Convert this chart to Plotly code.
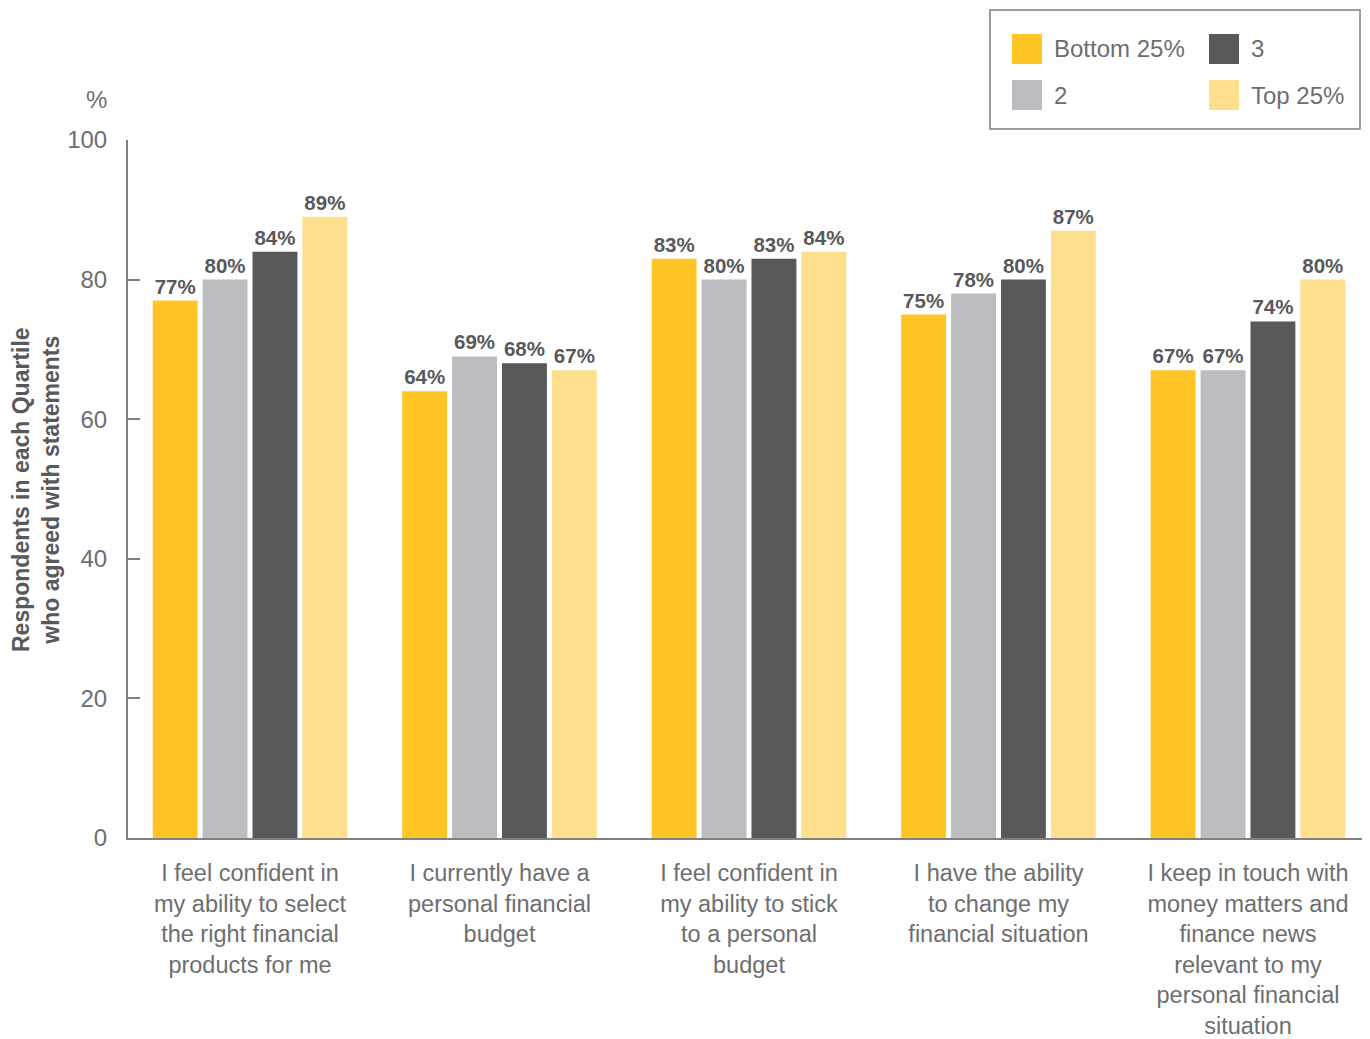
import plotly.graph_objects as go

# Survey statements (x categories) and quartile series
categories = [
    "I feel confident in<br>my ability to select<br>the right financial<br>products for me",
    "I currently have a<br>personal financial<br>budget",
    "I feel confident in<br>my ability to stick<br>to a personal<br>budget",
    "I have the ability<br>to change my<br>financial situation",
    "I keep in touch with<br>money matters and<br>finance news<br>relevant to my<br>personal financial<br>situation",
]
series_names = ["Bottom 25%", "2", "3", "Top 25%"]
bottom_25 = [77, 64, 83, 75, 67]
quartile_2 = [80, 69, 80, 78, 67]
quartile_3 = [84, 68, 83, 80, 74]
top_25 = [89, 67, 84, 87, 80]
series_values = [bottom_25, quartile_2, quartile_3, top_25]
series_colors = ["#FFC425", "#BCBDC0", "#58595B", "#FEDF8E"]
y_ticks = [0, 20, 40, 60, 80, 100]

FONT = "Liberation Sans"
TEXT_GREY = "#6D6E70"
DARK = "#58595B"

x_idx = list(range(len(categories)))

fig = go.Figure()
for name, vals, col in zip(series_names, series_values, series_colors):
    fig.add_trace(go.Bar(
        x=x_idx, y=vals, name=name, marker=dict(color=col, line=dict(width=0)),
        text=[f"{v}%" for v in vals], textposition="outside",
        textfont=dict(family=FONT, size=20.5, color=DARK, weight="bold"),
        constraintext="none", cliponaxis=False, showlegend=False,
    ))

# Plot area in pixels: x 128..1362, y 140..838
L, R, T, B = 128, 1362, 140, 838
W, H = R - L, B - T


def px(x):
    return (x - L) / W


def py(y):
    return (B - y) / H


fig.update_layout(
    width=1370, height=1039,
    margin=dict(l=L, r=1370 - R, t=T, b=1039 - B, autoexpand=False),
    paper_bgcolor="white", plot_bgcolor="white",
    barmode="group", bargap=0.2, bargroupgap=0.1,
    font=dict(family=FONT, color=TEXT_GREY),
    xaxis=dict(
        range=[-0.489, 4.457], tickmode="array", tickvals=x_idx, ticktext=categories,
        showline=True, linecolor="#808080", linewidth=2, ticks="", showgrid=False,
        zeroline=False, tickfont=dict(family=FONT, size=23.5, color=TEXT_GREY),
        ticklabelstandoff=13,
    ),
    yaxis=dict(
        range=[0, 100], tickvals=y_ticks, showgrid=False, zeroline=False,
        showline=True, linecolor="#808080", linewidth=2,
        ticks="inside", ticklen=12, tickcolor="#808080", tickwidth=2,
        tickfont=dict(family=FONT, size=24, color=TEXT_GREY),
        ticklabelstandoff=14,
    ),
)

# Axis unit and title
fig.add_annotation(text="%", x=px(96), y=py(100), xref="paper", yref="paper",
                   xanchor="center", yanchor="middle",
                   showarrow=False, font=dict(family=FONT, size=24, color=TEXT_GREY))
fig.add_annotation(text="Respondents in each Quartile<br>who agreed with statements",
                   x=px(36), y=py(490), xref="paper", yref="paper", textangle=-90,
                   xanchor="center", yanchor="middle",
                   showarrow=False, font=dict(family=FONT, size=23, color=DARK, weight="bold"))

# Legend box with colour swatches
fig.add_shape(type="rect", xref="paper", yref="paper",
              x0=px(990), x1=px(1360), y0=py(129), y1=py(10),
              line=dict(color="#808080", width=1.5), fillcolor="white")
legend_slots = [(1012, 34), (1012, 80), (1209, 34), (1209, 80)]
for name, col, (sx, sy) in zip(series_names, series_colors, legend_slots):
    fig.add_shape(type="rect", xref="paper", yref="paper",
                  x0=px(sx), x1=px(sx + 30), y0=py(sy + 30), y1=py(sy),
                  line=dict(width=0), fillcolor=col)
    fig.add_annotation(text=name, x=px(sx + 40), y=py(sy + 15), xref="paper", yref="paper",
                       xanchor="left", yanchor="middle", showarrow=False,
                       font=dict(family=FONT, size=24, color=TEXT_GREY))

fig.write_html("out.html")
